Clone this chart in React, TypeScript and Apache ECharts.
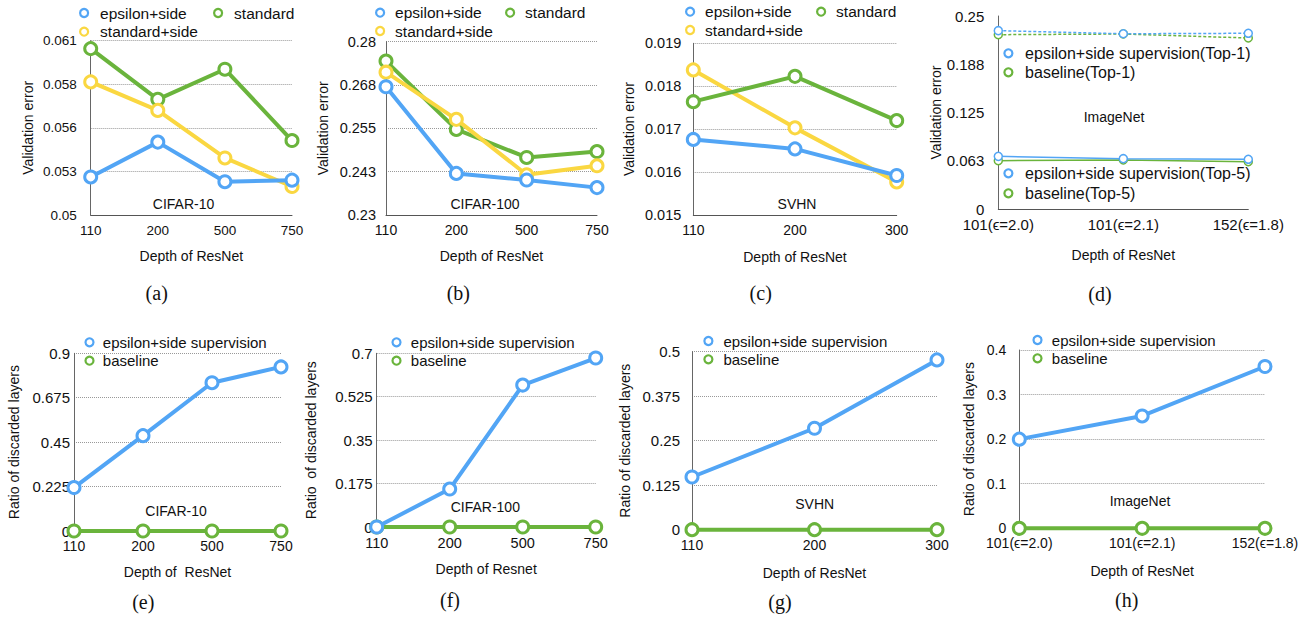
import React, { useEffect, useRef } from 'react';
import * as echarts from 'echarts';

const BLUE = '#52a5f5';
const GREEN = '#6ab43c';
const YELLOW = '#fad741';
const FONT = '"Liberation Sans", Arial, Helvetica, sans-serif';
const SERIF = '"Liberation Serif", "Times New Roman", serif';

// (a) CIFAR-10 validation error
const catsA = ['110', '200', '500', '750'];
const aEps = [0.0524, 0.0546, 0.0521, 0.0522];
const aStd = [0.0605, 0.0573, 0.0592, 0.0547];
const aStdSide = [0.0584, 0.0566, 0.0536, 0.0518];
const ticksA = ['0.05', '0.053', '0.056', '0.058', '0.061'];

// (b) CIFAR-100 validation error
const catsB = ['110', '200', '500', '750'];
const bEps = [0.267, 0.242, 0.2401, 0.2379];
const bStd = [0.2744, 0.2547, 0.2466, 0.2483];
const bStdSide = [0.2712, 0.2576, 0.2416, 0.2442];
const ticksB = ['0.23', '0.243', '0.255', '0.268', '0.28'];

// (c) SVHN validation error
const catsC = ['110', '200', '300'];
const cEps = [0.01676, 0.01654, 0.01592];
const cStd = [0.01764, 0.01823, 0.0172];
const cStdSide = [0.01838, 0.01703, 0.01577];
const ticksC = ['0.015', '0.016', '0.017', '0.018', '0.019'];

// (d) ImageNet validation error
const catsD = ['101(\u03f5=2.0)', '101(\u03f5=2.1)', '152(\u03f5=1.8)'];
const dEpsTop1 = [0.231, 0.227, 0.2276];
const dBaseTop1 = [0.2258, 0.2267, 0.2215];
const dEpsTop5 = [0.0682, 0.0652, 0.0644];
const dBaseTop5 = [0.0626, 0.0635, 0.0613];
const ticksD = ['0', '0.063', '0.125', '0.188', '0.25'];

// (e) CIFAR-10 ratio of discarded layers
const catsE = ['110', '200', '500', '750'];
const eEps = [0.22, 0.483, 0.751, 0.831];
const eBase = [0, 0, 0, 0];
const ticksE = ['0', '0.225', '0.45', '0.675', '0.9'];

// (f) CIFAR-100 ratio of discarded layers
const catsF = ['110', '200', '500', '750'];
const fEps = [0, 0.153, 0.572, 0.681];
const fBase = [0, 0, 0, 0];
const ticksF = ['0', '0.175', '0.35', '0.525', '0.7'];

// (g) SVHN ratio of discarded layers
const catsG = ['110', '200', '300'];
const gEps = [0.148, 0.285, 0.477];
const gBase = [0, 0, 0];
const ticksG = ['0', '0.125', '0.25', '0.375', '0.5'];

// (h) ImageNet ratio of discarded layers
const catsH = ['101(\u03f5=2.0)', '101(\u03f5=2.1)', '152(\u03f5=1.8)'];
const hEps = [0.2, 0.252, 0.363];
const hBase = [0, 0, 0];
const ticksH = ['0', '0.1', '0.2', '0.3', '0.4'];

type S = { name: string; data: number[]; color: string; dashed?: boolean };
type L = { name: string; color: string; cx: number; cy: number };
type Panel = {
  grid: [number, number, number, number];
  cats: string[];
  min: number;
  max: number;
  interval: number;
  ticks: string[];
  series: S[];
  yName: string;
  xName: string;
  yGap: number;
  xGap: number;
  yFont: number;
  xFont: number;
  yMargin: number;
  split: boolean;
  lw: number;
  sym: number;
  bw: number;
  legends: L[];
  legendFont: number;
  legendOff: number;
  legendIcon: number;
  ds: [string, number, number];
  cap: [string, number, number];
};

const panels: Panel[] = [
  {
    grid: [90.7, 40.7, 201.3, 174.3], cats: catsA, min: 0.05, max: 0.061, interval: 0.00275, ticks: ticksA,
    series: [
      { name: 'standard', data: aStd, color: GREEN },
      { name: 'standard+side', data: aStdSide, color: YELLOW },
      { name: 'epsilon+side', data: aEps, color: BLUE },
    ],
    yName: 'Validation error', xName: 'Depth of ResNet', yGap: 56, xGap: 34, yFont: 13.5, xFont: 13.5, yMargin: 14,
    split: true, lw: 4, sym: 12, bw: 3,
    legends: [
      { name: 'epsilon+side', color: BLUE, cx: 90, cy: 13 },
      { name: 'standard', color: GREEN, cx: 224, cy: 13 },
      { name: 'standard+side', color: YELLOW, cx: 90, cy: 31.7 },
    ],
    legendFont: 15.5, legendOff: 16, legendIcon: 8,
    ds: ['CIFAR-10', 183.5, 204], cap: ['(a)', 156.7, 293.3],
  },
  {
    grid: [386, 41.7, 211, 173.3], cats: catsB, min: 0.23, max: 0.28, interval: 0.0125, ticks: ticksB,
    series: [
      { name: 'standard', data: bStd, color: GREEN },
      { name: 'standard+side', data: bStdSide, color: YELLOW },
      { name: 'epsilon+side', data: bEps, color: BLUE },
    ],
    yName: 'Validation error', xName: 'Depth of ResNet', yGap: 56, xGap: 34, yFont: 14.5, xFont: 14, yMargin: 10,
    split: true, lw: 4, sym: 12, bw: 3,
    legends: [
      { name: 'epsilon+side', color: BLUE, cx: 385, cy: 12.7 },
      { name: 'standard', color: GREEN, cx: 515, cy: 12.7 },
      { name: 'standard+side', color: YELLOW, cx: 385, cy: 31 },
    ],
    legendFont: 15.5, legendOff: 15, legendIcon: 8,
    ds: ['CIFAR-100', 485, 204], cap: ['(b)', 458.3, 293],
  },
  {
    grid: [693.3, 43.3, 203.4, 171.7], cats: catsC, min: 0.015, max: 0.019, interval: 0.001, ticks: ticksC,
    series: [
      { name: 'standard+side', data: cStdSide, color: YELLOW },
      { name: 'standard', data: cStd, color: GREEN },
      { name: 'epsilon+side', data: cEps, color: BLUE },
    ],
    yName: 'Validation error', xName: 'Depth of ResNet', yGap: 57, xGap: 35, yFont: 14.5, xFont: 14, yMargin: 12,
    split: true, lw: 4, sym: 12, bw: 3,
    legends: [
      { name: 'epsilon+side', color: BLUE, cx: 695, cy: 11.7 },
      { name: 'standard', color: GREEN, cx: 826, cy: 11.7 },
      { name: 'standard+side', color: YELLOW, cx: 695, cy: 30 },
    ],
    legendFont: 15.5, legendOff: 15, legendIcon: 8,
    ds: ['SVHN', 797, 204], cap: ['(c)', 760.7, 293],
  },
  {
    grid: [998.3, 16, 250, 193], cats: catsD, min: 0, max: 0.25, interval: 0.0625, ticks: ticksD,
    series: [
      { name: 'baseline(Top-1)', data: dBaseTop1, color: GREEN, dashed: true },
      { name: 'epsilon+side supervision(Top-1)', data: dEpsTop1, color: BLUE, dashed: true },
      { name: 'baseline(Top-5)', data: dBaseTop5, color: GREEN },
      { name: 'epsilon+side supervision(Top-5)', data: dEpsTop5, color: BLUE },
    ],
    yName: 'Validation error', xName: 'Depth of ResNet', yGap: 50, xGap: 39, yFont: 15, xFont: 15, yMargin: 14,
    split: false, lw: 1.5, sym: 8, bw: 1.5,
    legends: [
      { name: 'epsilon+side supervision(Top-1)', color: BLUE, cx: 1015, cy: 53.3 },
      { name: 'baseline(Top-1)', color: GREEN, cx: 1015, cy: 72.3 },
      { name: 'epsilon+side supervision(Top-5)', color: BLUE, cx: 1015, cy: 173.3 },
      { name: 'baseline(Top-5)', color: GREEN, cx: 1015, cy: 193.3 },
    ],
    legendFont: 16, legendOff: 16.7, legendIcon: 8,
    ds: ['ImageNet', 1114, 117.3], cap: ['(d)', 1100, 294.3],
  },
  {
    grid: [74, 353.3, 207, 177.7], cats: catsE, min: 0, max: 0.9, interval: 0.225, ticks: ticksE,
    series: [
      { name: 'baseline', data: eBase, color: GREEN },
      { name: 'epsilon+side supervision', data: eEps, color: BLUE },
    ],
    yName: 'Ratio of discarded layers', xName: 'Depth of  ResNet', yGap: 53, xGap: 34, yFont: 15, xFont: 14, yMargin: 4,
    split: true, lw: 4, sym: 12, bw: 3,
    legends: [
      { name: 'epsilon+side supervision', color: BLUE, cx: 92.7, cy: 342.3 },
      { name: 'baseline', color: GREEN, cx: 92.7, cy: 360.7 },
    ],
    legendFont: 15, legendOff: 13.3, legendIcon: 8,
    ds: ['CIFAR-10', 176, 511], cap: ['(e)', 143.3, 601.7],
  },
  {
    grid: [376.7, 353.3, 219, 173.7], cats: catsF, min: 0, max: 0.7, interval: 0.175, ticks: ticksF,
    series: [
      { name: 'baseline', data: fBase, color: GREEN },
      { name: 'epsilon+side supervision', data: fEps, color: BLUE },
    ],
    yName: 'Ratio  of discarded layers', xName: 'Depth of Resnet', yGap: 59, xGap: 35, yFont: 15, xFont: 14.5, yMargin: 4,
    split: true, lw: 4, sym: 12, bw: 3,
    legends: [
      { name: 'epsilon+side supervision', color: BLUE, cx: 400.7, cy: 342.3 },
      { name: 'baseline', color: GREEN, cx: 400.7, cy: 360.7 },
    ],
    legendFont: 15, legendOff: 14.3, legendIcon: 8,
    ds: ['CIFAR-100', 485.3, 506.7], cap: ['(f)', 450, 600],
  },
  {
    grid: [692, 351.7, 245, 178], cats: catsG, min: 0, max: 0.5, interval: 0.125, ticks: ticksG,
    series: [
      { name: 'baseline', data: gBase, color: GREEN },
      { name: 'epsilon+side supervision', data: gEps, color: BLUE },
    ],
    yName: 'Ratio of discarded layers', xName: 'Depth of ResNet', yGap: 60, xGap: 36, yFont: 15, xFont: 14, yMargin: 12,
    split: true, lw: 4, sym: 12, bw: 3,
    legends: [
      { name: 'epsilon+side supervision', color: BLUE, cx: 713.3, cy: 341 },
      { name: 'baseline', color: GREEN, cx: 713.3, cy: 359.3 },
    ],
    legendFont: 15, legendOff: 15, legendIcon: 8,
    ds: ['SVHN', 814.7, 504.3], cap: ['(g)', 780, 601.7],
  },
  {
    grid: [1019.3, 350, 245.7, 178.3], cats: catsH, min: 0, max: 0.4, interval: 0.1, ticks: ticksH,
    series: [
      { name: 'baseline', data: hBase, color: GREEN },
      { name: 'epsilon+side supervision', data: hEps, color: BLUE },
    ],
    yName: 'Ratio of discarded layers', xName: 'Depth of ResNet', yGap: 43, xGap: 36, yFont: 14, xFont: 14, yMargin: 13,
    split: true, lw: 4, sym: 12, bw: 3,
    legends: [
      { name: 'epsilon+side supervision', color: BLUE, cx: 1041.7, cy: 340 },
      { name: 'baseline', color: GREEN, cx: 1041.7, cy: 358.3 },
    ],
    legendFont: 15, legendOff: 14.3, legendIcon: 8,
    ds: ['ImageNet', 1140, 501], cap: ['(h)', 1126.7, 600],
  },
];

function buildOption() {
  const grid: any[] = [];
  const xAxis: any[] = [];
  const yAxis: any[] = [];
  const series: any[] = [];
  const legend: any[] = [];
  const graphic: any[] = [];

  panels.forEach((p, i) => {
    grid.push({ left: p.grid[0], top: p.grid[1], width: p.grid[2], height: p.grid[3], containLabel: false });
    xAxis.push({
      gridIndex: i,
      type: 'category',
      boundaryGap: false,
      data: p.cats,
      axisLine: { show: true, lineStyle: { color: '#555', width: 1 } },
      axisTick: { show: false },
      axisLabel: { color: '#111', fontSize: p.xFont, fontFamily: FONT, margin: 8, interval: 0 },
      splitLine: { show: false },
      name: p.xName,
      nameLocation: 'middle',
      nameGap: p.xGap,
      nameTextStyle: { color: '#111', fontSize: 14, fontFamily: FONT },
    });
    yAxis.push({
      gridIndex: i,
      type: 'value',
      min: p.min,
      max: p.max,
      interval: p.interval,
      axisLine: { show: true, lineStyle: { color: '#666', width: 1 } },
      axisTick: { show: false },
      axisLabel: {
        color: '#111',
        fontSize: p.yFont,
        fontFamily: FONT,
        margin: p.yMargin,
        formatter: (v: number) => {
          const k = Math.round((v - p.min) / p.interval);
          return p.ticks[k] ?? '';
        },
      },
      splitLine: { show: p.split, lineStyle: { type: 'dotted', color: '#999', width: 1 } },
      name: p.yName,
      nameLocation: 'middle',
      nameGap: p.yGap,
      nameTextStyle: { color: '#111', fontSize: 14, fontFamily: FONT },
    });
    p.series.forEach((s, j) => {
      series.push({
        type: 'line',
        name: s.name,
        xAxisIndex: i,
        yAxisIndex: i,
        data: s.data,
        symbol: 'circle',
        symbolSize: p.sym,
        showAllSymbol: true,
        clip: false,
        z: 2 + j,
        lineStyle: { color: s.color, width: p.lw, type: s.dashed ? [3, 2] : 'solid' },
        itemStyle: { color: '#fff', borderColor: s.color, borderWidth: p.bw },
        emphasis: { disabled: true },
      });
    });
    p.legends.forEach((l) => {
      const iw = (p.legendOff - 5) * 2;
      legend.push({
        data: [{ name: l.name, icon: 'circle' }],
        left: l.cx - iw / 2,
        top: l.cy - 9,
        padding: 0,
        itemWidth: iw,
        itemHeight: p.legendIcon,
        symbolKeepAspect: true,
        selectedMode: false,
        itemStyle: { color: '#fff', borderColor: l.color, borderWidth: 2.2 },
        lineStyle: { width: 0 },
        textStyle: { color: '#111', fontSize: p.legendFont, fontFamily: FONT, lineHeight: 18 },
      });
    });
    graphic.push({
      type: 'text',
      x: p.ds[1],
      y: p.ds[2],
      style: { text: p.ds[0], fill: '#111', font: `14px ${FONT}`, align: 'center', verticalAlign: 'middle' },
    });
    graphic.push({
      type: 'text',
      x: p.cap[1],
      y: p.cap[2],
      style: { text: p.cap[0], fill: '#111', font: `20px ${SERIF}`, align: 'center', verticalAlign: 'middle' },
    });
  });

  return {
    animation: false,
    backgroundColor: '#fff',
    grid,
    xAxis,
    yAxis,
    series,
    legend,
    graphic,
  };
}

export default function App() {
  const ref = useRef<HTMLDivElement>(null);
  useEffect(() => {
    if (!ref.current) return;
    const chart = echarts.init(ref.current, undefined, { renderer: 'svg' });
    chart.setOption(buildOption() as any);
    return () => chart.dispose();
  }, []);
  return (
    <div
      ref={ref}
      style={{ position: 'fixed', left: 0, top: 0, width: 1310, height: 624, background: '#fff' }}
    />
  );
}
